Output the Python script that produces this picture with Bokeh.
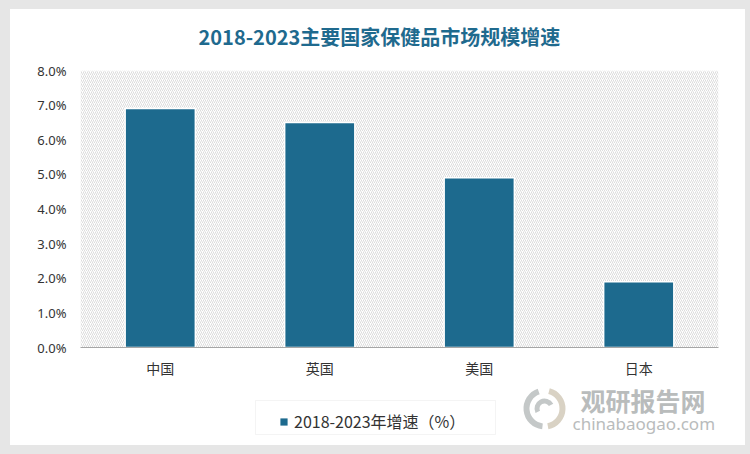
from bokeh.plotting import figure
from bokeh.models import (ColumnDataSource, BoxAnnotation, Legend, LegendItem,
                          FixedTicker, PrintfTickFormatter, Label, Range1d)
from bokeh.layouts import column
from bokeh.embed import file_html
from bokeh.resources import INLINE

categories = ["中国", "英国", "美国", "日本"]
growth = [6.9, 6.5, 4.9, 1.9]
y_ticks = [0, 1, 2, 3, 4, 5, 6, 7, 8]
title_text = "2018-2023主要国家保健品市场规模增速"
series_name = "2018-2023年增速（%）"
watermark_cn = "观研报告网"
watermark_en = "chinabaogao.com"

BAR = "#1d6a8e"
CJK = "Noto Sans CJK SC"

src = ColumnDataSource(dict(cat=categories, val=growth))

# The white card is built from three stacked figures whose frames are aligned
# horizontally (frame spans page x 80..718), so the strips use page-pixel x ranges.

# ---- top strip: title ----
t = figure(width=735, height=50, x_range=Range1d(80, 718), y_range=Range1d(0, 50),
           output_backend="svg", toolbar_location=None,
           x_axis_location=None, y_axis_location=None,
           min_border=0, background_fill_color="white", border_fill_color="white",
           outline_line_color=None)
t.grid.visible = False
t.title.visible = False
t.margin = (9, 5, 0, 10)
t.styles = {"background-color": "white"}
t.add_layout(Label(x=198, y=23, text=title_text, text_font=CJK, text_font_size="20px",
                   text_font_style="bold", text_color="#1f6a8e", text_baseline="middle"))

# ---- main chart ----
p = figure(x_range=categories, y_range=Range1d(0, 8), width=735, height=321,
           output_backend="svg", toolbar_location=None,
           min_border_left=70, min_border_right=27, min_border_top=11, min_border_bottom=32,
           background_fill_color="white", border_fill_color="white", outline_line_color=None)
p.title.visible = False
p.margin = (0, 5, 0, 10)
p.styles = {"background-color": "white"}

hatch = BoxAnnotation(fill_color="white", fill_alpha=1, line_color=None,
                      hatch_pattern="/", hatch_color="#dcdcdc", hatch_scale=4,
                      hatch_weight=1, level="underlay")
p.add_layout(hatch)

r = p.vbar(x="cat", top="val", width=0.44, source=src, fill_color=BAR,
           line_color="white", line_width=1.5)

p.xgrid.visible = False
p.ygrid.visible = False

p.yaxis.ticker = FixedTicker(ticks=y_ticks)
p.yaxis.formatter = PrintfTickFormatter(format="%.1f%%")
p.yaxis.axis_line_color = None
p.yaxis.major_tick_line_color = None
p.yaxis.minor_tick_line_color = None
p.yaxis.major_tick_out = 0
p.yaxis.major_label_text_font = "Noto Sans"
p.yaxis.major_label_text_font_size = "13px"
p.yaxis.major_label_text_color = "#333333"
p.yaxis.major_label_standoff = 14

p.xaxis.axis_line_color = "#a6a6a6"
p.xaxis.major_tick_line_color = None
p.xaxis.minor_tick_line_color = None
p.xaxis.major_tick_out = 0
p.xaxis.major_label_text_font = CJK
p.xaxis.major_label_text_font_size = "14px"
p.xaxis.major_label_text_color = "#333333"
p.xaxis.major_label_standoff = 10

# ---- bottom strip: legend + watermark ----
SH = 65
s = figure(width=735, height=SH, x_range=Range1d(80, 718), y_range=Range1d(0, SH),
           output_backend="svg", toolbar_location=None,
           x_axis_location=None, y_axis_location=None,
           min_border=0, background_fill_color="white", border_fill_color="white",
           outline_line_color=None)
s.grid.visible = False
s.title.visible = False
s.margin = (0, 5, 9, 10)
s.styles = {"background-color": "white"}

s.add_layout(BoxAnnotation(left=255, right=495, bottom=11, top=45, fill_color="white",
                           fill_alpha=1, line_color="#d9d9d9", line_width=1))
# renderer used only to give the legend its swatch (categorical x on a numeric strip -> not drawn)
lr = s.vbar(x="cat", top="val", width=0.44, source=src, fill_color=BAR, line_color=None)
legend = Legend(items=[LegendItem(label=series_name, renderers=[lr])],
                location=(199, 12), orientation="horizontal",
                label_text_font=CJK, label_text_font_size="16px",
                label_text_color="#333333", border_line_color=None,
                background_fill_alpha=0, glyph_width=9, glyph_height=9,
                padding=6, margin=0, label_standoff=6)
s.add_layout(legend)

# watermark logo (approximation)
s.annular_wedge(x=[544], y=[37], inner_radius=15, outer_radius=21,
                start_angle=[1.9], end_angle=[4.6], fill_color="#c4c8c8", line_color=None)
s.annular_wedge(x=[544], y=[37], inner_radius=15, outer_radius=21,
                start_angle=[4.9], end_angle=[7.6], fill_color="#d9d2c4", line_color=None)
s.annular_wedge(x=[544], y=[37], inner_radius=5, outer_radius=10,
                start_angle=[0.5], end_angle=[3.6], fill_color="#c4c8c8", line_color=None)

s.add_layout(Label(x=580, y=46, text=watermark_cn, text_font=CJK, text_font_size="25px",
                   text_font_style="bold", text_color="#b9bcbc", text_baseline="middle"))
s.add_layout(Label(x=572, y=22, text=watermark_en, text_font="Noto Sans",
                   text_font_size="17px", text_color="#b9bcbc", text_baseline="middle"))

layout = column(t, p, s, width=750, height=454, spacing=0,
                styles={"background-color": "#e6e6e6"})

open("out.html", "w").write(file_html(layout, INLINE))
